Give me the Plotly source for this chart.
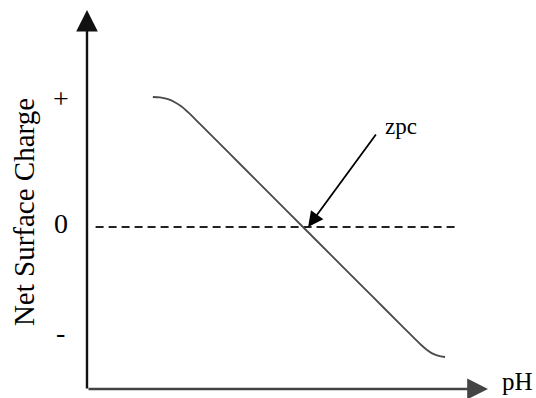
import plotly.graph_objects as go

# ---- data (pH vs net surface charge, arbitrary units) ----
ph = [2.30, 2.55, 2.80, 3.05, 3.30, 3.60, 3.95, 5.0, 6.0, 7.54, 9.0, 10.0, 11.0, 11.63, 11.85, 12.05, 12.25, 12.50]
charge = [1.0, 0.997, 0.985, 0.962, 0.927, 0.868, 0.791, 0.560, 0.339, 0.0, -0.322, -0.542, -0.762, -0.90, -0.942, -0.972, -0.99, -1.0]

zero_x = [0.3, 12.85]
zero_y = [0.0, 0.0]

tick_vals = [0.985, 0.03, -0.815]
tick_text = ["+", "0", "-"]

zpc_tip = (7.72, 0.0)
zpc_tail = (10.125, 0.723)
zpc_label = "zpc"

x_range = [0, 14]
y_range = [-1.2538, 1.6692]

LABEL_FONT = "Liberation Serif"

fig = go.Figure()
fig.add_trace(go.Scatter(x=zero_x, y=zero_y, mode="lines",
                         line=dict(color="#222", width=1.8, dash="8px,5px"),
                         hoverinfo="skip", cliponaxis=False))
fig.add_trace(go.Scatter(x=ph, y=charge, mode="lines", line_shape="spline",
                         line=dict(color="#4a4a4a", width=1.8),
                         hoverinfo="skip", cliponaxis=False))

ann = []
# y axis with arrow
ann.append(dict(x=0, y=y_range[1], ax=0, ay=y_range[0], xref="x", yref="y", axref="x", ayref="y",
                text="", showarrow=True, arrowhead=2, arrowsize=1.8, arrowwidth=2.4, arrowcolor="#111"))
# x axis with arrow
ann.append(dict(x=x_range[1], y=-1.246, ax=0, ay=-1.246, xref="x", yref="y", axref="x", ayref="y",
                text="", showarrow=True, arrowhead=2, arrowsize=1.6, arrowwidth=2.6, arrowcolor="#444"))
# zpc arrow
ann.append(dict(x=zpc_tip[0], y=zpc_tip[1], ax=zpc_tail[0], ay=zpc_tail[1], xref="x", yref="y",
                axref="x", ayref="y", text="", showarrow=True, arrowhead=2, arrowsize=1.7,
                arrowwidth=1.8, arrowcolor="#000"))
ann.append(dict(x=10.34, y=0.77, xref="x", yref="y", text=zpc_label, showarrow=False,
                xanchor="left", yanchor="middle",
                font=dict(family="Liberation Serif", size=23, color="#000")))
ann.append(dict(x=1.03, y=-1.19, xref="paper", yref="y", text="pH", showarrow=False,
                xanchor="left", yanchor="middle",
                font=dict(family="Liberation Serif", size=25, color="#000")))
for v, t in zip(tick_vals, tick_text):
    ann.append(dict(x=-0.0657, y=v, xref="paper", yref="y", text=t, showarrow=False,
                    xanchor="center", yanchor="middle",
                    font=dict(family=LABEL_FONT, size=28, color="#000")))
ann.append(dict(x=-0.157, y=0.115, xref="paper", yref="y", text="Net Surface Charge", showarrow=False,
                textangle=-90, xanchor="center", yanchor="middle",
                font=dict(family=LABEL_FONT, size=29, color="#000")))

fig.update_layout(
    width=536, height=398,
    margin=dict(l=87, r=48, t=10, b=8),
    paper_bgcolor="white", plot_bgcolor="white",
    showlegend=False,
    xaxis=dict(range=x_range, visible=False, fixedrange=True),
    yaxis=dict(range=y_range, visible=False, fixedrange=True),
    annotations=ann,
)

fig.write_html("out.html", post_script="document.body.style.margin='0';",
               config={"displayModeBar": False})
